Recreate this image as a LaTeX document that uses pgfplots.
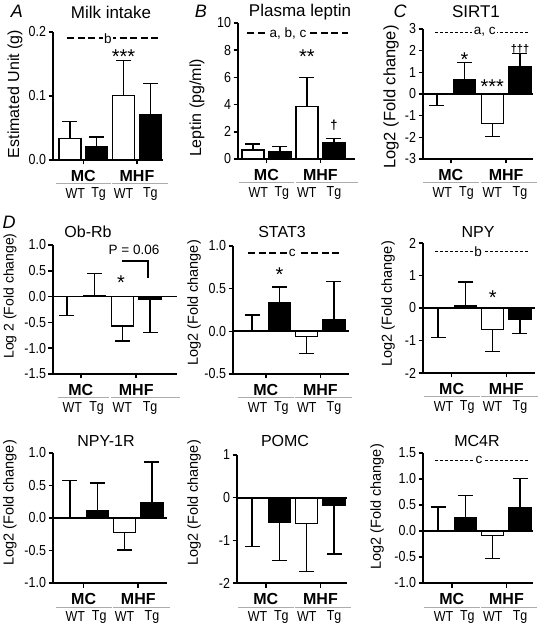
\documentclass[border=0pt]{standalone}
\usepackage{pgfplots}
\pgfplotsset{compat=1.18}
\usepackage{fontspec}
\setmainfont{Liberation Sans}
\newfontfamily\cond{Liberation Sans}[FakeStretch=0.86]
\newcommand{\fs}[1]{\fontsize{#1}{#1}\selectfont}
\pgfplotsset{
  pan/.style={
    scale only axis, anchor=south west, clip=false,
    axis x line=bottom, axis y line=left,
    axis line style={-, line width=1.8pt},
    x axis line style={-}, y axis line style={-},
    tick align=outside, major tick length=4.5pt,
    tick style={line width=1.6pt, black},
    xtick={0.5,2.5}, xticklabel=\empty,
    minor tick num=0,
    ticklabel style={font=\cond\fs{14.5}},
    yticklabel style={xshift=1pt},
    /pgf/number format/assume math mode=true,
    ybar, bar width=22pt, /pgf/bar shift=0pt,
    error bars/y dir=both, error bars/y explicit,
    error bars/error bar style={line width=1.3pt, black},
    error bars/error mark options={rotate=90, mark size=7.5pt, line width=1.3pt, black},
  },
  one/.style={yticklabel style={/pgf/number format/.cd, fixed, fixed zerofill, precision=1}},
  wt/.style={fill=white, draw=black, line width=1.4pt},
  tg/.style={fill=black, draw=black, line width=1.4pt},
}
\tikzset{
  dthick/.style={line width=2pt, dash pattern=on 7pt off 3.5pt},
  dthin/.style={line width=0.9pt, dash pattern=on 3pt off 2pt},
  lbl/.style={fill=white, inner sep=1.5pt, font=\fs{13.5}},
  star/.style={font=\fs{20}, inner sep=0pt, yshift=-4.3pt},
  dag/.style={font=\bfseries\fs{11}, inner sep=0pt},
}
\newcommand{\grp}[3]{%
  \node[font=\bfseries\fs{16}] at ([yshift=-16pt]axis cs:0.5,#1) {MC};
  \node[font=\bfseries\fs{16}] at ([yshift=-16pt]axis cs:2.5,#1) {MHF};
  \draw[gray!65, line width=1pt] ([yshift=-24pt]axis cs:#2,#1) -- ([yshift=-24pt]axis cs:1.52,#1);
  \draw[gray!65, line width=1pt] ([yshift=-24pt]axis cs:1.58,#1) -- ([yshift=-24pt]axis cs:#3,#1);
  \node[font=\cond\fs{14.5}] at ([yshift=-34pt]axis cs:0.2,#1) {WT};
  \node[font=\cond\fs{14.5}] at ([yshift=-34pt]axis cs:1.07,#1) {Tg};
  \node[font=\cond\fs{14.5}] at ([yshift=-34pt]axis cs:2.0,#1) {WT};
  \node[font=\cond\fs{14.5}] at ([yshift=-34pt]axis cs:3.0,#1) {Tg};
}
\begin{document}
\begin{tikzpicture}
\useasboundingbox (0pt,0pt) rectangle (540pt,626pt);
% ---------- titles, letters, ylabels
\node[font=\itshape\fs{18}] at (17pt,615pt) {A};
\node[font=\itshape\fs{18}] at (201pt,615pt) {B};
\node[font=\itshape\fs{18}] at (400pt,615pt) {C};
\node[font=\itshape\fs{18}] at (9pt,404pt) {D};
\node[font=\fs{17}] at (111pt,614pt) {Milk intake};
\node[font=\fs{17}] at (300pt,614pt) {Plasma leptin};
\node[font=\fs{17}] at (476pt,614pt) {SIRT1};
\node[font=\fs{16}] at (88pt,394pt) {Ob-Rb};
\node[font=\fs{16}] at (282pt,394pt) {STAT3};
\node[font=\fs{16}] at (478pt,394pt) {NPY};
\node[font=\fs{16}] at (106pt,185pt) {NPY-1R};
\node[font=\fs{16}] at (285pt,185pt) {POMC};
\node[font=\fs{16}] at (477pt,185pt) {MC4R};
\node[font=\fs{16}, rotate=90] at (15pt,532pt) {Estimated Unit (g)};
\node[font=\fs{16}, rotate=90] at (197pt,518pt) {Leptin (pg/ml)};
\node[font=\fs{16.5}, rotate=90] at (391pt,529pt) {Log2 (Fold change)};
\node[font=\fs{14}, rotate=90] at (10pt,330pt) {Log 2 (Fold change)};
\node[font=\fs{14.5}, rotate=90] at (194pt,323pt) {Log2 (Fold change)};
\node[font=\fs{14.5}, rotate=90] at (388pt,322pt) {Log2 (Fold change)};
\node[font=\fs{14.5}, rotate=90] at (10pt,123pt) {Log2 (Fold change)};
\node[font=\fs{14.5}, rotate=90] at (194pt,123pt) {Log2 (Fold change)};
\node[font=\fs{14.5}, rotate=90] at (377pt,119pt) {Log2 (Fold change)};

% ---------- A
\begin{axis}[pan, one, at={(53pt,466pt)}, width=110pt, height=128pt,
  xmin=-0.63, xmax=3.47, ymin=0, ymax=0.2, ytick={0,0.1,0.2}]
\addplot[wt] coordinates {(0,0.034) += (0,0.026) -= (0,0) (2,0.101) += (0,0.054) -= (0,0)};
\addplot[tg] coordinates {(1,0.021) += (0,0.015) -= (0,0) (3,0.070) += (0,0.050) -= (0,0)};
\draw[dthick] (axis cs:-0.1,0.19) -- (axis cs:3.4,0.19);
\node[lbl] at (axis cs:1.42,0.19) {b};
\node[star] at (axis cs:2,0.169) {***};
\grp{0}{-0.5}{3.65}
\end{axis}

% ---------- B
\begin{axis}[pan, at={(238pt,467pt)}, width=117pt, height=136pt,
  xmin=-0.55, xmax=3.78, ymin=0, ymax=10, ytick={0,2,4,6,8,10}]
\addplot[wt] coordinates {(0,0.67) += (0,0.43) -= (0,0) (2,3.88) += (0,2.1) -= (0,0)};
\addplot[tg] coordinates {(1,0.55) += (0,0.35) -= (0,0) (3,1.2) += (0,0.3) -= (0,0)};
\draw[dthick] (axis cs:-0.2,9.26) -- (axis cs:3.52,9.26);
\node[lbl] at (axis cs:1.3,9.26) {a, b, c};
\node[star] at (axis cs:2,7.87) {**};
\node[font=\bfseries\fs{13}, inner sep=0pt] at (axis cs:3,2.5) {\textdagger};
\grp{0}{-0.5}{3.9}
\end{axis}

% ---------- C
\begin{axis}[pan, at={(423pt,467pt)}, width=110pt, height=130pt,
  xmin=-0.5, xmax=3.47, ymin=-3, ymax=3, ytick={-3,-2,-1,0,1,2,3}]
\addplot[wt] coordinates {(0,0) += (0,0) -= (0,0.52) (2,-1.36) += (0,0) -= (0,0.59)};
\addplot[tg] coordinates {(1,0.66) += (0,0.78) -= (0,0) (3,1.25) += (0,0.62) -= (0,0)};
\draw[line width=1.8pt] (axis cs:-0.5,0) -- (axis cs:3.47,0);
\draw[dthin] (axis cs:-0.07,2.86) -- (axis cs:3.3,2.86);
\node[lbl] at (axis cs:1.73,2.86) {a, c};
\node[star] at (axis cs:1,1.8) {*};
\node[star] at (axis cs:2,0.55) {***};
\node[dag] at (axis cs:3,2.1) {\textdagger\textdagger\textdagger};
\grp{-3}{-0.5}{3.6}
\end{axis}

% ---------- Ob-Rb
\begin{axis}[pan, one, at={(53pt,252pt)}, width=124pt, height=129pt,
  xmin=-0.5, xmax=3.97, ymin=-1.5, ymax=1.0, ytick={-1.5,-1,-0.5,0,0.5,1}]
\addplot[wt] coordinates {(0,0) += (0,0) -= (0,0.36) (2,-0.57) += (0,0) -= (0,0.29)};
\addplot[tg] coordinates {(1,0.01) += (0,0.435) -= (0,0) (3,-0.045) += (0,0) -= (0,0.655)};
\draw[line width=1.8pt] (axis cs:-0.5,0) -- (axis cs:3.97,0);
\draw[line width=1.6pt] (axis cs:2,0.69) -- (axis cs:2.93,0.69) -- (axis cs:2.93,0.36);
\node[font=\fs{13.5}] at (axis cs:2.42,0.9) {P = 0.06};
\node[star] at (axis cs:1.95,0.35) {*};
\grp{-1.5}{-0.32}{4.08}
\end{axis}

% ---------- STAT3
\begin{axis}[pan, one, at={(233pt,252pt)}, width=116pt, height=128pt,
  xmin=-0.7, xmax=3.55, ymin=-0.5, ymax=1.0, ytick={-0.5,0,0.5,1}]
\addplot[wt] coordinates {(0,0) += (0,0.19) -= (0,0) (2,-0.06) += (0,0) -= (0,0.2)};
\addplot[tg] coordinates {(1,0.336) += (0,0.184) -= (0,0) (3,0.14) += (0,0.44) -= (0,0)};
\draw[line width=1.8pt] (axis cs:-0.7,0) -- (axis cs:3.55,0);
\draw[dthick] (axis cs:-0.15,0.92) -- (axis cs:3.3,0.92);
\node[lbl] at (axis cs:1.47,0.92) {c};
\node[star] at (axis cs:1,0.71) {*};
\grp{-0.5}{-0.5}{3.66}
\end{axis}

% ---------- NPY
\begin{axis}[pan, at={(423pt,253pt)}, width=112pt, height=130pt,
  xmin=-0.55, xmax=3.55, ymin=-2, ymax=2, ytick={-2,-1,0,1,2}]
\addplot[wt] coordinates {(0,0) += (0,0) -= (0,0.9) (2,-0.66) += (0,0) -= (0,0.68)};
\addplot[tg] coordinates {(1,0.08) += (0,0.72) -= (0,0) (3,-0.36) += (0,0) -= (0,0.43)};
\draw[line width=1.8pt] (axis cs:-0.55,0) -- (axis cs:3.55,0);
\draw[dthin] (axis cs:-0.1,1.73) -- (axis cs:3.3,1.73);
\node[lbl] at (axis cs:1.47,1.73) {b};
\node[star] at (axis cs:2,0.46) {*};
\grp{-2}{-0.5}{3.66}
\end{axis}

% ---------- NPY-1R
\begin{axis}[pan, one, at={(53pt,43pt)}, width=114pt, height=130pt,
  xmin=-0.62, xmax=3.55, ymin=-1, ymax=1, ytick={-1,-0.5,0,0.5,1}]
\addplot[wt] coordinates {(0,0) += (0,0.58) -= (0,0) (2,-0.22) += (0,0) -= (0,0.27)};
\addplot[tg] coordinates {(1,0.11) += (0,0.43) -= (0,0) (3,0.23) += (0,0.63) -= (0,0)};
\draw[line width=1.8pt] (axis cs:-0.62,0) -- (axis cs:3.55,0);
\grp{-1}{-0.5}{3.66}
\end{axis}

% ---------- POMC
\begin{axis}[pan, at={(237pt,43pt)}, width=110pt, height=128pt,
  xmin=-0.55, xmax=3.47, ymin=-2, ymax=1, ytick={-2,-1,0,1}]
\addplot[wt] coordinates {(0,0) += (0,0) -= (0,1.14) (2,-0.6) += (0,0) -= (0,1.13)};
\addplot[tg] coordinates {(1,-0.58) += (0,0) -= (0,0.9) (3,-0.19) += (0,0) -= (0,1.13)};
\draw[line width=1.8pt] (axis cs:-0.55,0) -- (axis cs:3.47,0);
\grp{-2}{-0.5}{3.6}
\end{axis}

% ---------- MC4R
\begin{axis}[pan, one, at={(423pt,43pt)}, width=110pt, height=130pt,
  xmin=-0.55, xmax=3.47, ymin=-1, ymax=1.5, ytick={-1,-0.5,0,0.5,1,1.5}]
\addplot[wt] coordinates {(0,0) += (0,0.46) -= (0,0) (2,-0.09) += (0,0) -= (0,0.44)};
\addplot[tg] coordinates {(1,0.26) += (0,0.42) -= (0,0) (3,0.44) += (0,0.57) -= (0,0)};
\draw[line width=1.8pt] (axis cs:-0.55,0) -- (axis cs:3.47,0);
\draw[dthin] (axis cs:-0.1,1.36) -- (axis cs:3.3,1.36);
\node[lbl] at (axis cs:1.5,1.36) {c};
\grp{-1}{-0.5}{3.6}
\end{axis}
\end{tikzpicture}
\end{document}
